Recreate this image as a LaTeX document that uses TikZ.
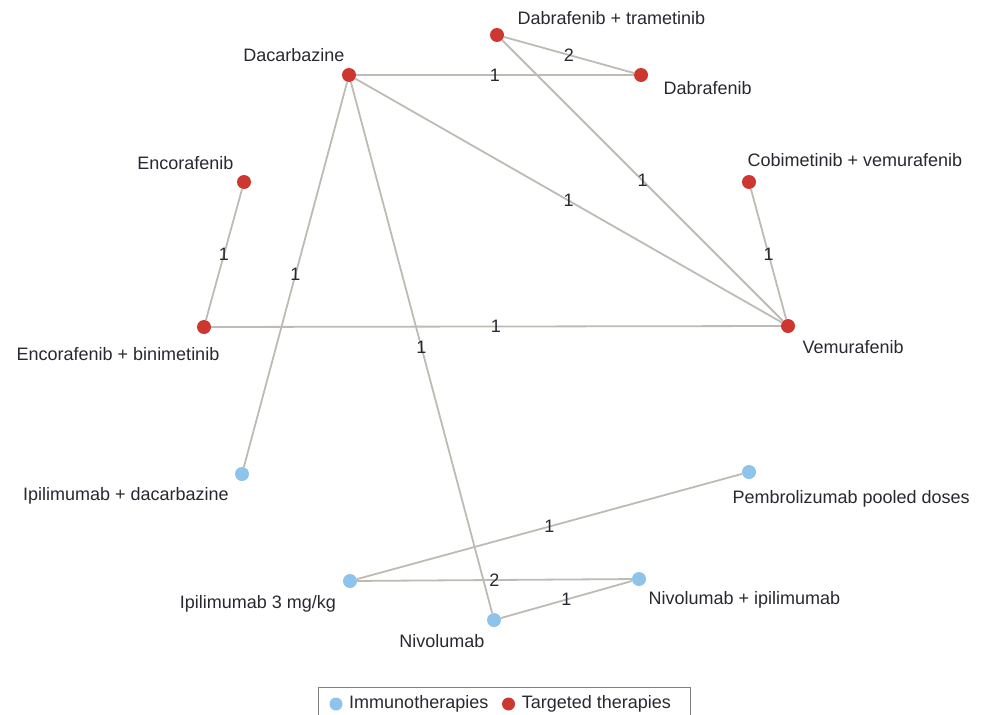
\documentclass[tikz,border=0pt]{standalone}
\usepackage{fontspec}
\setmainfont{Liberation Sans}
\usetikzlibrary{positioning}
\definecolor{edgegray}{RGB}{190,187,180}
\definecolor{targetred}{RGB}{205,55,48}
\definecolor{immunoblue}{RGB}{142,196,235}
\definecolor{txtgray}{RGB}{40,40,48}

\begin{document}
\begin{tikzpicture}[x=1pt, y=-1pt,
                  every node/.style={font=\fontsize{18}{21}\selectfont, text=txtgray},
                  target/.style={circle, fill=targetred, minimum size=14pt, inner sep=0pt},
                  immuno/.style={circle, fill=immunoblue, minimum size=14pt, inner sep=0pt},
                  trial/.style={draw=edgegray, line width=1.8pt},
                  nlab/.style={midway, inner sep=0pt}]
    \useasboundingbox (0,0) rectangle (986,715);
    % treatments
    \node[target] (dac) at (349,75) {};
    \node[target] (dabtra) at (497,35) {};
    \node[target] (dab) at (641,75) {};
    \node[target] (enc) at (244,182) {};
    \node[target] (cobvem) at (749,182) {};
    \node[target] (encbin) at (204,327) {};
    \node[target] (vem) at (788,326) {};
    \node[immuno] (ipidac) at (242,474) {};
    \node[immuno] (pem) at (749,472) {};
    \node[immuno] (ipi) at (350,581) {};
    \node[immuno] (nivipi) at (639,579) {};
    \node[immuno] (niv) at (494,620) {};
    % trials
    \draw[trial] (dac) -- node[nlab] {1} (dab);
    \draw[trial] (dabtra) -- node[nlab] {2} (dab);
    \draw[trial] (dabtra) -- node[nlab] {1} (vem);
    \draw[trial] (dac) -- node[nlab] {1} (vem);
    \draw[trial] (cobvem) -- node[nlab] {1} (vem);
    \draw[trial] (enc) -- node[nlab] {1} (encbin);
    \draw[trial] (encbin) -- node[nlab] {1} (vem);
    \draw[trial] (dac) -- node[nlab] {1} (ipidac);
    \draw[trial] (dac) -- node[nlab] {1} (niv);
    \draw[trial] (ipi) -- node[nlab] {1} (pem);
    \draw[trial] (ipi) -- node[nlab] {2} (nivipi);
    \draw[trial] (niv) -- node[nlab] {1} (nivipi);
    % names
    \node (dactxt) at (294,55) {Dacarbazine};
    \node[anchor=west] (dabtratxt) at (514,18) {Dabrafenib + trametinib};
    \node[anchor=west] (dabtxt) at (660,88) {Dabrafenib};
    \node[anchor=east] (enctxt) at (237,163) {Encorafenib};
    \node[anchor=west] (cobvemtxt) at (744,160) {Cobimetinib + vemurafenib};
    \node (encbintxt) at (118,354) {Encorafenib + binimetinib};
    \node[anchor=west] (vemtxt) at (799,347) {Vemurafenib};
    \node (ipidactxt) at (126,496) {Ipilimumab + dacarbazine};
    \node[anchor=west] (pemtxt) at (729,499) {Pembrolizumab pooled doses};
    \node (ipitxt) at (258,604) {Ipilimumab 3 mg/kg};
    \node[anchor=west] (nivipitxt) at (645,600) {Nivolumab + ipilimumab};
    \node (nivtxt) at (442,641) {Nivolumab};
    % legend
    \draw[gray, line width=0.8pt] (318,687) rectangle (690,725);
    \node[immuno, minimum size=13pt] (legimm) at (336,704) {};
    \node[right=3pt of legimm] (legimmtxt) {Immunotherapies};
    \node[target, minimum size=13pt, right=10pt of legimmtxt] (legtar) {};
    \node[right=3pt of legtar] (legtartxt) {Targeted therapies};
\end{tikzpicture}
\end{document}
